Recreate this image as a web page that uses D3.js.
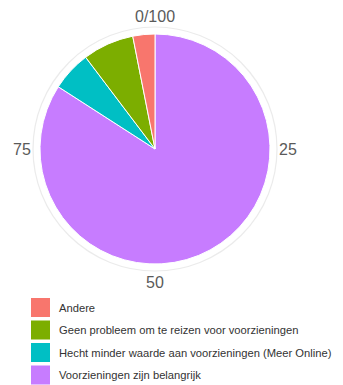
<!DOCTYPE html>
<html><head><meta charset="utf-8">
<script src="https://cdn.jsdelivr.net/npm/d3@7"></script>
<style>body{margin:0;background:#fff}svg{display:block}</style>
</head><body>
<script>
const categories = ["Andere", "Geen probleem om te reizen voor voorzieningen", "Hecht minder waarde aan voorzieningen (Meer Online)", "Voorzieningen zijn belangrijk"];
const values = [3.1, 7.2, 5.6, 84.1];
const colors = ["#F8766D", "#7CAE00", "#00BFC4", "#C77CFF"];
const tickValues = [0, 25, 50, 75];
const tickLabels = ["0/100", "25", "50", "75"];

const W = 343, H = 385;
const cx = 155, cy = 149, R = 115, gridR = 122, labelR = 133;
const svg = d3.select("body").append("svg").attr("width", W).attr("height", H);

const g = svg.append("g").attr("transform", `translate(${cx},${cy})`);
g.append("circle").attr("r", gridR).attr("fill", "none").attr("stroke", "#ebebeb").attr("stroke-width", 1.2);

// stacking order: last category first from 0 clockwise
const order = d3.range(categories.length).reverse();
const pie = d3.pie().sort(null).value(i => values[i]);
const arcs = pie(order);
const arc = d3.arc().innerRadius(0).outerRadius(R);
g.selectAll("path.slice").data(arcs).join("path")
  .attr("class", "slice")
  .attr("d", arc)
  .attr("fill", d => colors[d.data])
  .attr("stroke", "#fff").attr("stroke-width", 1);

const ang = d3.scaleLinear().domain([0, 100]).range([0, 2 * Math.PI]);
g.selectAll("text.tick").data(tickValues).join("text")
  .attr("class", "tick")
  .attr("x", d => labelR * Math.sin(ang(d)))
  .attr("y", d => -labelR * Math.cos(ang(d)))
  .attr("text-anchor", "middle").attr("dominant-baseline", "central")
  .attr("font-family", "Liberation Sans, Arial, sans-serif").attr("font-size", 16)
  .attr("fill", "#5a5a5a")
  .text((d, i) => tickLabels[i]);

const leg = svg.append("g").attr("transform", "translate(31,298)");
const items = leg.selectAll("g").data(categories).join("g")
  .attr("transform", (d, i) => `translate(0,${i * 22.5})`);
items.append("rect").attr("width", 19).attr("height", 19).attr("fill", (d, i) => colors[i]);
items.append("text").attr("x", 28).attr("y", 9.5).attr("dominant-baseline", "central")
  .attr("font-family", "Liberation Sans, Arial, sans-serif").attr("font-size", 11.2)
  .attr("fill", "#333").text(d => d);
</script>
</body></html>
